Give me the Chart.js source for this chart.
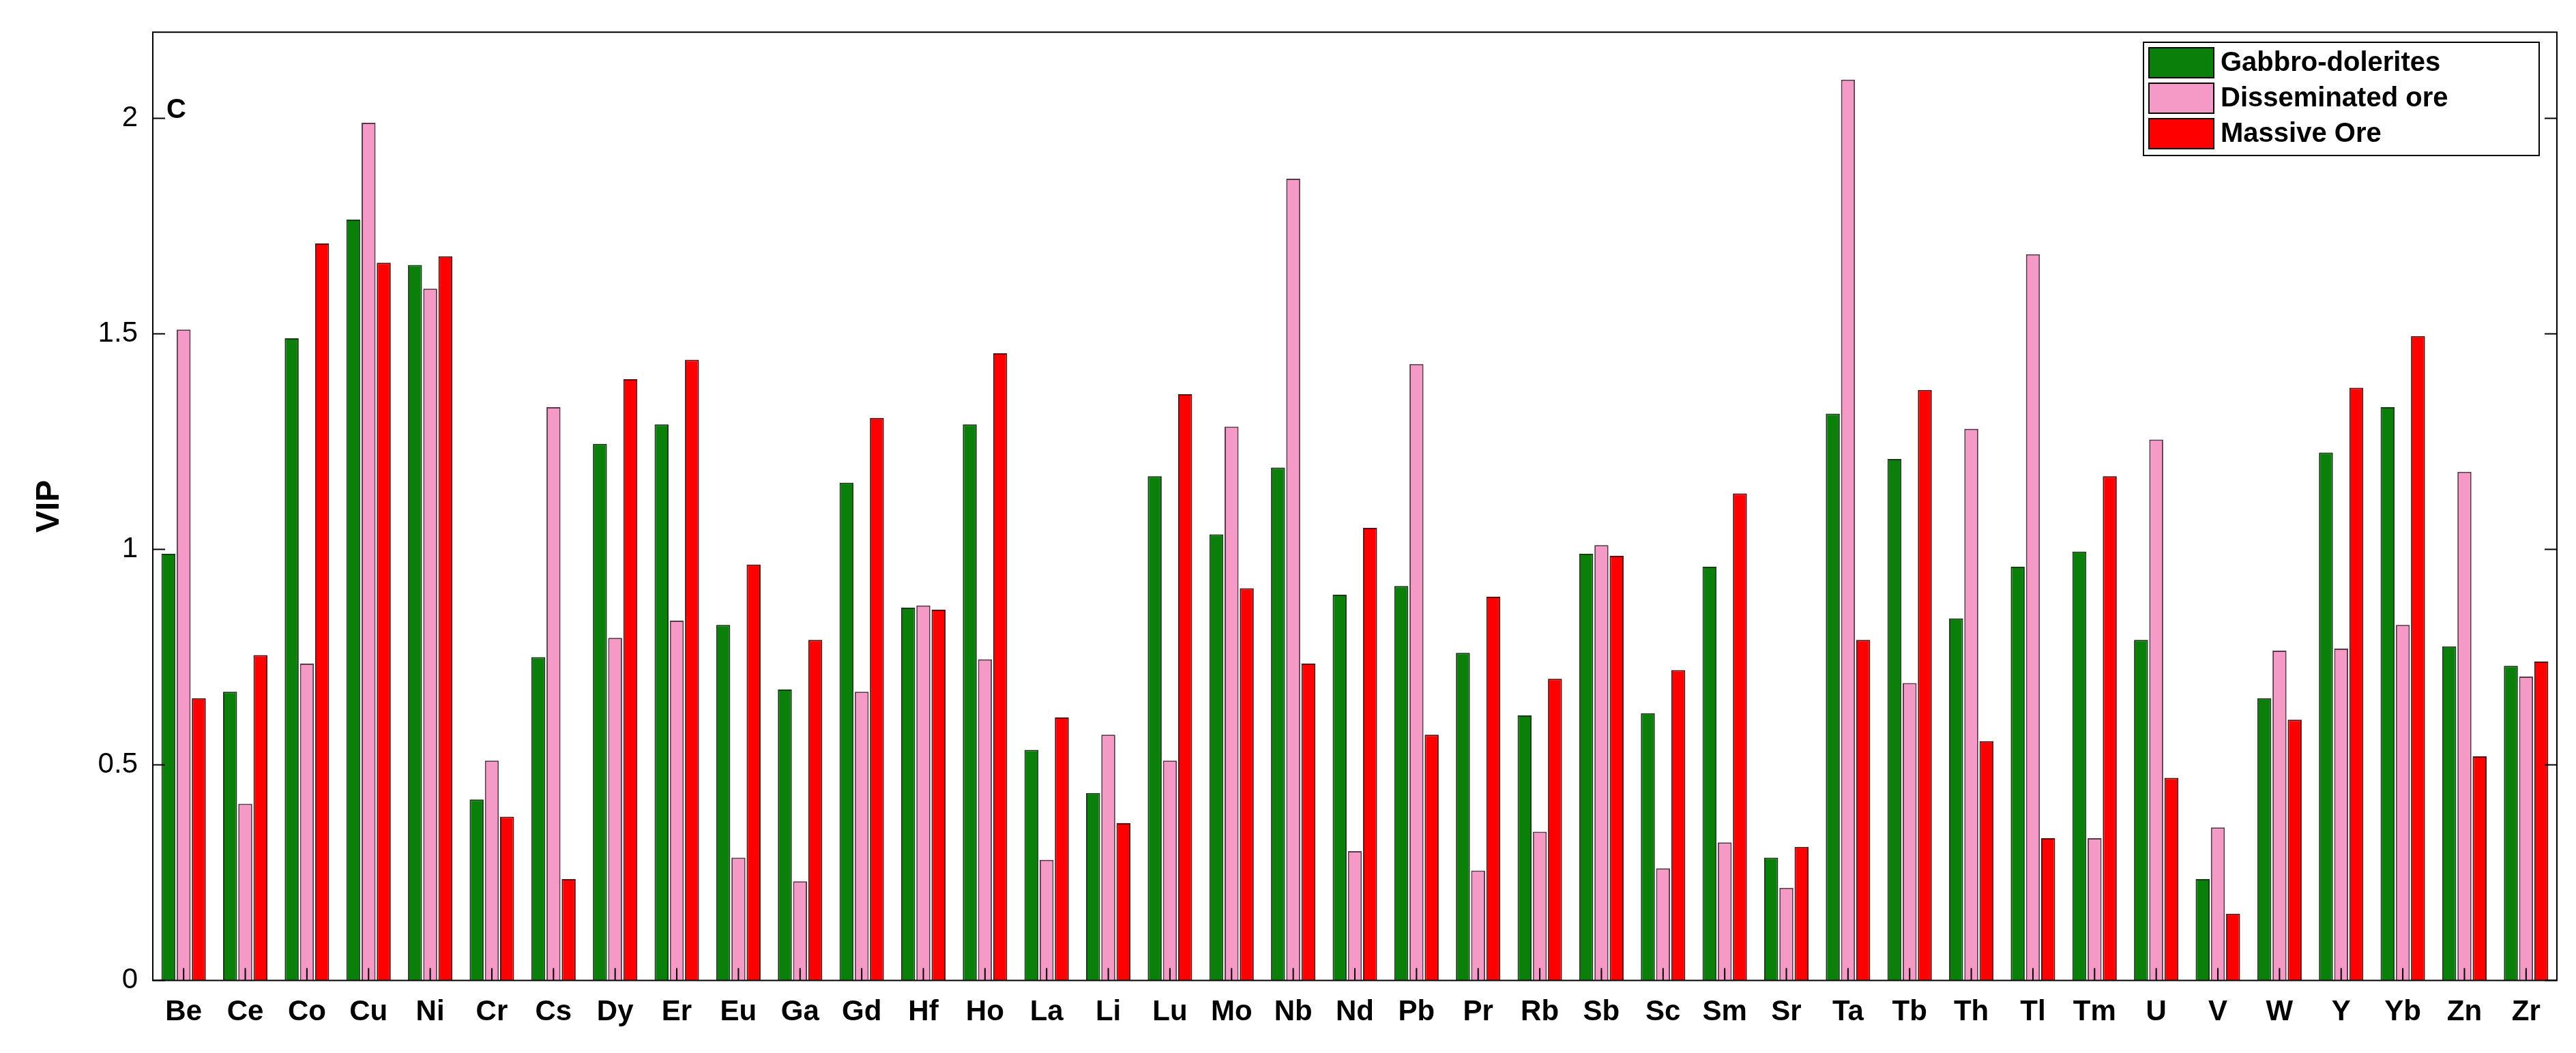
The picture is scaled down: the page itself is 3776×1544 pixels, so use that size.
<!DOCTYPE html>
<html>
<head>
<meta charset="utf-8">
<script src="https://cdn.jsdelivr.net/npm/chart.js@4/dist/chart.umd.min.js"></script>
<style>
  body { margin: 0; background: #fff; }
  #wrap { width: 3776px; height: 1544px; }
</style>
</head>
<body>
<div id="wrap"><canvas id="chart"></canvas></div>
<script>
const elements = ['Be','Ce','Co','Cu','Ni','Cr','Cs','Dy','Er','Eu','Ga','Gd','Hf','Ho','La','Li','Lu','Mo','Nb','Nd','Pb','Pr','Rb','Sb','Sc','Sm','Sr','Ta','Tb','Th','Tl','Tm','U','V','W','Y','Yb','Zn','Zr'];
const gabbro = [0.99,0.67,1.49,1.765,1.66,0.42,0.75,1.245,1.29,0.825,0.675,1.155,0.865,1.29,0.535,0.435,1.17,1.035,1.19,0.895,0.915,0.76,0.615,0.99,0.62,0.96,0.285,1.315,1.21,0.84,0.96,0.995,0.79,0.235,0.655,1.225,1.33,0.775,0.73];
const disseminated = [1.51,0.41,0.735,1.99,1.605,0.51,1.33,0.795,0.835,0.285,0.23,0.67,0.87,0.745,0.28,0.57,0.51,1.285,1.86,0.30,1.43,0.255,0.345,1.01,0.26,0.32,0.215,2.09,0.69,1.28,1.685,0.33,1.255,0.355,0.765,0.77,0.825,1.18,0.705];
const massive = [0.655,0.755,1.71,1.665,1.68,0.38,0.235,1.395,1.44,0.965,0.79,1.305,0.86,1.455,0.61,0.365,1.36,0.91,0.735,1.05,0.57,0.89,0.70,0.985,0.72,1.13,0.31,0.79,1.37,0.555,0.33,1.17,0.47,0.155,0.605,1.375,1.495,0.52,0.74];
const yTicks = [0, 0.5, 1, 1.5, 2];
const yTickLabels = ['0', '0.5', '1', '1.5', '2'];

const font = 'Liberation Sans';

// box around plot, tick marks, panel letter and legend inside the plot
const frame = {
  id: 'frame',
  afterDraw(chart) {
    const { ctx, chartArea: a } = chart;
    const ys = chart.scales.y, xs = chart.scales.x;
    ctx.save();
    ctx.strokeStyle = '#000';
    ctx.lineWidth = 2;
    ctx.strokeRect(a.left, a.top, a.right - a.left, a.bottom - a.top);
    ctx.beginPath();
    yTicks.forEach(v => {
      const py = ys.getPixelForValue(v);
      ctx.moveTo(a.left, py); ctx.lineTo(a.left + 18, py);
      ctx.moveTo(a.right, py); ctx.lineTo(a.right - 18, py);
    });
    elements.forEach((e, i) => {
      const px = xs.getPixelForValue(i);
      ctx.moveTo(px, a.bottom); ctx.lineTo(px, a.bottom - 18);
    });
    ctx.stroke();
    ctx.fillStyle = '#000';
    ctx.font = 'bold 40px ' + font;
    ctx.textBaseline = 'middle';
    ctx.fillText('C', a.left + 20, a.top + 115);
    const sets = chart.data.datasets;
    const x = 3150, y = 70;
    ctx.fillStyle = '#fff';
    ctx.fillRect(x - 8, y - 8, 580, 166);
    ctx.strokeRect(x - 8, y - 8, 580, 166);
    sets.forEach((ds, i) => {
      const yy = y + i * 52;
      ctx.fillStyle = ds.backgroundColor;
      ctx.fillRect(x, yy, 95, 44);
      ctx.strokeRect(x, yy, 95, 44);
      ctx.fillStyle = '#000';
      ctx.font = 'bold 40px ' + font;
      ctx.fillText(ds.label, x + 105, yy + 23);
    });
    ctx.restore();
  }
};

new Chart(document.getElementById('chart').getContext('2d'), {
  type: 'bar',
  data: {
    labels: elements,
    datasets: [
      { label: 'Gabbro-dolerites', data: gabbro, backgroundColor: '#0a800a', borderColor: '#1a3a1a', borderWidth: 2 },
      { label: 'Disseminated ore', data: disseminated, backgroundColor: '#f59ac6', borderColor: '#5a3a4a', borderWidth: 2 },
      { label: 'Massive Ore', data: massive, backgroundColor: '#ff0000', borderColor: '#5a1010', borderWidth: 2 }
    ]
  },
  options: {
    responsive: true,
    maintainAspectRatio: false,
    animation: false,
    devicePixelRatio: 1,
    layout: { padding: { top: 25, right: 28, bottom: 20, left: 40 } },
    plugins: { legend: { display: false }, tooltip: { enabled: false } },
    datasets: { bar: { categoryPercentage: 0.74, barPercentage: 0.92 } },
    scales: {
      x: {
        grid: { display: false },
        border: { display: false },
        ticks: { color: '#000', font: { family: font, size: 42, weight: 'bold' }, maxRotation: 0, autoSkip: false, padding: 14 }
      },
      y: {
        min: 0,
        max: 2.2,
        afterBuildTicks(axis) { axis.ticks = yTicks.map(v => ({ value: v })); },
        grid: { display: false, drawTicks: false },
        border: { display: false },
        ticks: {
          color: '#000', font: { family: font, size: 42 }, padding: 22,
          callback: (v) => yTickLabels[yTicks.indexOf(v)]
        },
        title: { display: true, text: 'VIP', color: '#000', font: { family: font, size: 48, weight: 'bold' }, padding: { bottom: 20 } }
      }
    }
  },
  plugins: [frame]
});
</script>
</body>
</html>
